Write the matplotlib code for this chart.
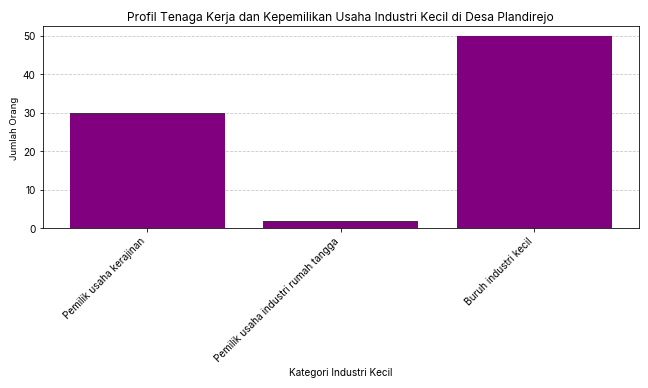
import matplotlib
matplotlib.use('Agg')
from matplotlib import pyplot as plt

plt.rcParams['font.family'] = ['Inter', 'DejaVu Sans']

categories = ['Pemilik usaha kerajinan', 'Pemilik usaha industri rumah tangga', 'Buruh industri kecil']
counts = [30, 2, 50]

fig, ax = plt.subplots(figsize=(9, 5.4), dpi=72)
ax.bar(categories, counts, color='purple', width=0.8, zorder=2)
ax.set_title('Profil Tenaga Kerja dan Kepemilikan Usaha Industri Kecil di Desa Plandirejo')
ax.set_xlabel('Kategori Industri Kecil')
ax.set_ylabel('Jumlah Orang', fontsize=9.5)
ax.grid(axis='y', linestyle='--', alpha=0.7, zorder=0)
plt.xticks(rotation=45, ha='right')

fig.subplots_adjust(left=0.066, right=0.986, top=0.931, bottom=0.411)
fig.savefig('out.png', dpi=72)
